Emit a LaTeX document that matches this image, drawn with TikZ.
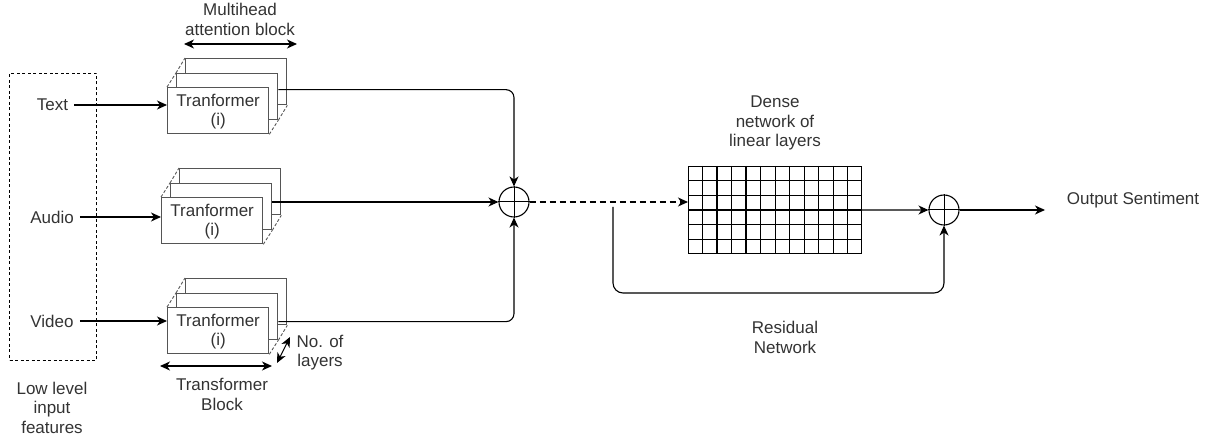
\documentclass[tikz,border=0pt]{standalone}
\usepackage{fontspec}
\setmainfont{Liberation Sans}
\usetikzlibrary{arrows.meta,calc}
\definecolor{txtgray}{HTML}{333333}
\definecolor{boxgray}{HTML}{555555}
\tikzset{
  lbl/.style={text=txtgray,align=center,inner sep=0pt,font=\fontsize{17}{19.5}\selectfont},
  arr/.style={line width=1.1pt,-{Stealth[length=10pt,width=9pt,inset=3pt]}},
  darr/.style={line width=1.1pt,{Stealth[length=10pt,width=9pt,inset=3pt]}-{Stealth[length=10pt,width=9pt,inset=3pt]}},
  conn/.style={line width=1.1pt},
  layer/.style={draw=boxgray,fill=white,line width=1.3pt,minimum width=101pt,minimum height=46pt,inner sep=0pt,anchor=north west},
  diag/.style={draw=boxgray,line width=0.9pt,dash pattern=on 3pt off 2pt},
  sumnode/.style={circle,draw,line width=1.1pt,minimum size=30pt,inner sep=0pt},
}
\newcommand\tfblock[3]{%
  % #1 name, #2 x of front, #3 y of front top
  \node[layer] (#1c) at (#2+18,#3-29) {};
  \node[layer] (#1b) at (#2+9,#3-14) {};
  \node[layer] (#1) at (#2,#3) {};
  \node[lbl] at ($(#1.center)+(0,1)$) {Tranformer\\(i)};
  \draw[diag] (#1.north west) -- (#1b.north west);
  \draw[diag] (#1b.north west) -- (#1c.north west);
  \draw[diag] (#1.south east) -- (#1b.south east);
  \draw[diag] (#1b.south east) -- (#1c.south east);
}
\begin{document}
\begin{tikzpicture}[x=1pt,y=-1pt]
\useasboundingbox (0,0) rectangle (1215,443);

% input dashed box
\node[draw,line width=1pt,dash pattern=on 3pt off 2.5pt,minimum width=87pt,minimum height=287pt,inner sep=0pt,anchor=north west] (inbox) at (9,73) {};

% input labels
\node[lbl] (textl) at (52.5,105) {Text};
\node[lbl] (audiol) at (52,217) {Audio};
\node[lbl] (videol) at (52,321) {Video};
\node[lbl] (lowl) at (52,407.5) {Low level\\input\\features};

% transformer blocks
\tfblock{t1}{167}{87}
\tfblock{a1}{161}{197}
\tfblock{v1}{167}{307}

% input arrows
\draw[arr] ([xshift=6pt]textl.east) -- (textl.east -| t1.west);
\draw[arr] ([xshift=6pt]audiol.east) -- (audiol.east -| a1.west);
\draw[arr] ([xshift=6pt]videol.east) -- (videol.east -| v1.west);

% annotation labels and arrows
\node[lbl] (mhl) at (240,19.5) {Multihead\\attention block};
\coordinate (mh1) at (184,44);
\coordinate (mh2) at (297,44);
\draw[darr] (mh1) -- (mh2);

\node[lbl] (tbl) at (222,394.5) {Transformer\\Block};
\coordinate (tb1) at (160,366);
\coordinate (tb2) at (272,366);
\draw[darr] (tb1) -- (tb2);

\node[lbl] (nll) at (320,352.5) {No. of\\layers};
\coordinate (nl1) at (277,363);
\coordinate (nl2) at (290,337);
\draw[darr] (nl1) -- (nl2);

% summation 1
\node[sumnode] (sum1) at (514,202) {};
\draw[line width=1pt] (sum1.north) -- (sum1.south) (sum1.west) -- (sum1.east);

\draw[arr,rounded corners=8pt] ([yshift=7pt]t1b.east) -| (sum1.north);
\draw[arr] (sum1.west -| a1b.east) -- (sum1.west);
\draw[arr,rounded corners=8pt] ([yshift=-5pt]v1b.east) -| (sum1.south);

% dense grid
\node[lbl] (densel) at (775,123) {Dense\\network of\\linear layers};
\node[draw,line width=1.1pt,minimum width=173pt,minimum height=87pt,inner sep=0pt,anchor=north west] (dense) at (688,166) {};
\foreach \i in {1,...,11} {
  \draw[line width=1.1pt] ($(dense.north west)!\i/12!(dense.north east)$) -- ($(dense.south west)!\i/12!(dense.south east)$);
}
\foreach \j in {1,...,5} {
  \draw[line width=1.1pt] ($(dense.north west)!\j/6!(dense.south west)$) -- ($(dense.north east)!\j/6!(dense.south east)$);
}

\draw[arr,dash pattern=on 6pt off 4pt] (sum1.east) -- (sum1.east -| dense.west);

% summation 2
\node[sumnode] (sum2) at (944,210) {};
\draw[line width=1pt] (sum2.north) -- (sum2.south) (sum2.west) -- (sum2.east);
\draw[arr] (dense.east) -- (sum2.west);

% residual
\coordinate (rs) at (613,207);
\coordinate (rb) at (613,293);
\draw[arr,rounded corners=10pt] (rs) -- (rb) -| (sum2.south);
\node[lbl] (resl) at (785,337.5) {Residual\\Network};

% output
\coordinate (outend) at (1045,210);
\draw[arr] (sum2.east) -- (outend);
\node[lbl] (outl) at (1133,200) {Output Sentiment};
\end{tikzpicture}
\end{document}
